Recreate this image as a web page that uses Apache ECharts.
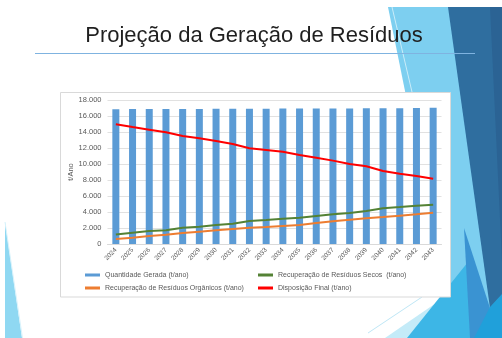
<!DOCTYPE html>
<html>
<head>
<meta charset="utf-8">
<script src="https://cdn.jsdelivr.net/npm/echarts@6/dist/echarts.min.js"></script>
<style>
  html, body { margin: 0; padding: 0; background: #ffffff; }
  #chart { width: 502px; height: 338px; }
</style>
</head>
<body>
<div id="chart"></div>
<script>
// Anos da projeção
const years = ['2024','2025','2026','2027','2028','2029','2030','2031','2032','2033',
               '2034','2035','2036','2037','2038','2039','2040','2041','2042','2043'];

// Quantidade gerada (t/ano)
const quantidadeGerada = [16850, 16860, 16860, 16870, 16890, 16890, 16900, 16900, 16910, 16920,
                          16930, 16930, 16940, 16950, 16950, 16960, 16970, 16980, 16990, 17020];

// Recuperação de resíduos secos (t/ano)
const recuperacaoSecos = [1200, 1420, 1620, 1710, 2040, 2170, 2370, 2540, 2880, 3000,
                          3170, 3290, 3500, 3710, 3880, 4120, 4460, 4620, 4790, 4920];

// Recuperação de resíduos orgânicos (t/ano)
const recuperacaoOrganicos = [620, 790, 1000, 1170, 1370, 1540, 1710, 1880, 2040, 2120,
                              2250, 2370, 2620, 2830, 3040, 3210, 3370, 3540, 3710, 3920];

// Disposição final (t/ano)
const disposicaoFinal = [14960, 14620, 14290, 13960, 13500, 13210, 12870, 12500, 11960, 11750,
                         11540, 11120, 10790, 10420, 10000, 9710, 9120, 8790, 8500, 8170];

// Eixo Y
const yMin = 0, yMax = 18000, yStep = 2000;

const seriesNames = [
  'Quantidade Gerada (t/ano)',
  'Recuperação de Resíduos Secos  (t/ano)',
  'Recuperação de Resíduos Orgânicos (t/ano)',
  'Disposição Final (t/ano)'
];

const FONT = "'Liberation Sans', Arial, sans-serif";
const GREY = '#595959';

function milhar(v) {
  return String(v).replace(/\B(?=(\d{3})+(?!\d))/g, '.');
}

function poly(points, fill) {
  return { type: 'polygon', z: -10, shape: { points: points }, style: { fill: fill }, silent: true };
}

const chart = echarts.init(document.getElementById('chart'), null, { renderer: 'canvas' });

chart.setOption({
  animation: false,
  backgroundColor: '#ffffff',
  textStyle: { fontFamily: FONT },
  graphic: [
    // faixa decorativa à esquerda
    poly([[5, 222], [5, 338], [22, 338]], '#8fd8f2'),
    { type: 'line', z: -10, silent: true, shape: { x1: 5, y1: 222, x2: 22.5, y2: 338 },
      style: { stroke: '#d8f2fb', lineWidth: 1 } },
    // facetas decorativas à direita
    poly([[388, 7], [502, 7], [502, 338], [455, 338]], '#7dcff0'),
    { type: 'line', z: -10, silent: true, shape: { x1: 392, y1: 7, x2: 412, y2: 92 },
      style: { stroke: '#c9ecf9', lineWidth: 1 } },
    poly([[448, 7], [502, 7], [502, 295], [490, 308]], '#2f6e9f'),
    poly([[490, 7], [502, 7], [502, 262]], '#2b6394'),
    poly([[385, 338], [452, 292], [468, 338]], '#c4ebf8'),
    { type: 'line', z: -10, silent: true, shape: { x1: 368, y1: 333, x2: 422, y2: 297 },
      style: { stroke: '#bfe7f6', lineWidth: 1 } },
    poly([[407, 338], [468, 262], [480, 338]], '#3db6e6'),
    poly([[464, 228], [490, 308], [478, 338], [470, 338]], '#3a93d2'),
    poly([[474, 338], [490, 307], [502, 294], [502, 338]], '#20a0da'),
    // título
    { type: 'text', z: -5, silent: true, x: 254, y: 36,
      style: { text: 'Projeção da Geração de Resíduos', fill: '#1f1f1f', font: '22px ' + FONT,
               textAlign: 'center', textVerticalAlign: 'middle' } },
    { type: 'line', z: -5, silent: true, shape: { x1: 35, y1: 53.5, x2: 475, y2: 53.5 },
      style: { stroke: '#7fb3e0', lineWidth: 1 } },
    // moldura do gráfico
    { type: 'rect', z: -5, silent: true, shape: { x: 60.5, y: 92.5, width: 390, height: 204.5 },
      style: { fill: '#ffffff', stroke: '#d9d9d9', lineWidth: 1 } }
  ],
  grid: { left: 107.5, right: 60.5, top: 100, bottom: 94, containLabel: false },
  legend: [
    {
      left: 85, top: 271, orient: 'vertical', padding: 0,
      itemWidth: 15, itemHeight: 3, itemGap: 5,
      textStyle: { fontSize: 7, color: GREY, lineHeight: 8, fontFamily: FONT },
      data: [{ name: seriesNames[0], icon: 'rect' }, { name: seriesNames[2], icon: 'rect' }]
    },
    {
      left: 258, top: 271, orient: 'vertical', padding: 0,
      itemWidth: 15, itemHeight: 3, itemGap: 5,
      textStyle: { fontSize: 7, color: GREY, lineHeight: 8, fontFamily: FONT },
      data: [{ name: seriesNames[1], icon: 'rect' }, { name: seriesNames[3], icon: 'rect' }]
    }
  ],
  xAxis: {
    type: 'category',
    data: years,
    axisLine: { lineStyle: { color: '#d9d9d9', width: 1 } },
    axisTick: { show: false },
    axisLabel: { interval: 0, rotate: 45, fontSize: 6.5, color: GREY, margin: 5, fontFamily: FONT }
  },
  yAxis: {
    type: 'value',
    min: yMin, max: yMax, interval: yStep,
    name: 't/Ano', nameLocation: 'middle', nameGap: 33, nameMoveOverlap: false,
    nameTextStyle: { fontSize: 7.5, color: GREY, fontFamily: FONT },
    axisLine: { show: false },
    axisTick: { show: false },
    axisLabel: { fontSize: 7.5, color: GREY, margin: 6, fontFamily: FONT, formatter: milhar },
    splitLine: { lineStyle: { color: '#d9d9d9', width: 0.8 } }
  },
  series: [
    { name: seriesNames[0], type: 'bar', data: quantidadeGerada, barWidth: 7,
      itemStyle: { color: '#5b9bd5' }, z: 2 },
    { name: seriesNames[1], type: 'line', data: recuperacaoSecos, showSymbol: false,
      lineStyle: { color: '#548235', width: 2 }, itemStyle: { color: '#548235' }, z: 3 },
    { name: seriesNames[2], type: 'line', data: recuperacaoOrganicos, showSymbol: false,
      lineStyle: { color: '#ed7d31', width: 2 }, itemStyle: { color: '#ed7d31' }, z: 3 },
    { name: seriesNames[3], type: 'line', data: disposicaoFinal, showSymbol: false,
      lineStyle: { color: '#ff0000', width: 2 }, itemStyle: { color: '#ff0000' }, z: 3 }
  ]
});
</script>
</body>
</html>
